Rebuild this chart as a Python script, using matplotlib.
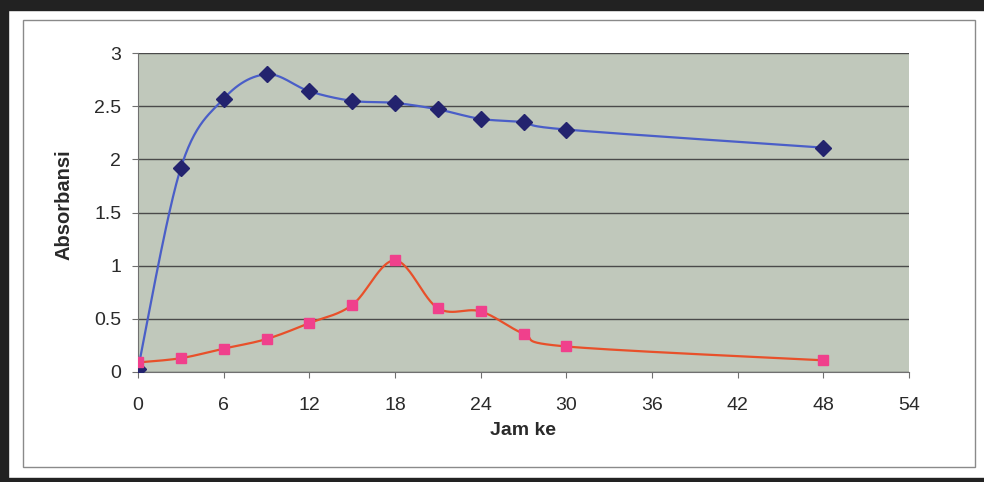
import numpy as np
import matplotlib
matplotlib.use("Agg")
import matplotlib.pyplot as plt
from matplotlib.patches import Rectangle

plt.rcParams['font.family'] = ['Liberation Sans', 'DejaVu Sans']

jam = [0, 3, 6, 9, 12, 15, 18, 21, 24, 27, 30, 48]
seri_biru = [0.03, 1.92, 2.57, 2.80, 2.64, 2.55, 2.53, 2.47, 2.38, 2.35, 2.28, 2.11]
seri_merah = [0.09, 0.13, 0.22, 0.31, 0.46, 0.63, 1.05, 0.60, 0.57, 0.36, 0.24, 0.11]
x_ticks = [0, 6, 12, 18, 24, 30, 36, 42, 48, 54]
y_ticks = [0, 0.5, 1, 1.5, 2, 2.5, 3]


def smooth(x, y, n=30):
    # Excel-style smoothed line (Catmull-Rom bezier through the points)
    x = np.asarray(x, float)
    y = np.asarray(y, float)
    px, py = [], []
    for i in range(len(x) - 1):
        i0 = max(i - 1, 0)
        i3 = min(i + 2, len(x) - 1)
        c1x = x[i] + (x[i + 1] - x[i0]) / 6
        c1y = y[i] + (y[i + 1] - y[i0]) / 6
        c2x = x[i + 1] - (x[i3] - x[i]) / 6
        c2y = y[i + 1] - (y[i3] - y[i]) / 6
        t = np.linspace(0, 1, n)
        a, b, c, d = (1 - t) ** 3, 3 * t * (1 - t) ** 2, 3 * t ** 2 * (1 - t), t ** 3
        px.extend(a * x[i] + b * c1x + c * c2x + d * x[i + 1])
        py.extend(a * y[i] + b * c1y + c * c2y + d * y[i + 1])
    return px, py


fig = plt.figure(figsize=(9.84, 4.82), dpi=100)

# scanned page frame
fig.patches.append(Rectangle((0, 0), 8 / 984, 1, transform=fig.transFigure, color='#222222', zorder=0))
fig.patches.append(Rectangle((0, 1 - 10 / 482), 1, 10 / 482, transform=fig.transFigure, color='#222222', zorder=0))
fig.patches.append(Rectangle((0, 0), 1, 4 / 482, transform=fig.transFigure, color='#222222', zorder=0))
fig.patches.append(Rectangle((23 / 984, 15 / 482), 952 / 984, 447 / 482, transform=fig.transFigure,
                             facecolor='white', edgecolor='#8a8a8a', lw=1, zorder=0))

ax = fig.add_axes([138 / 984, 110 / 482, 771 / 984, 319 / 482])
ax.set_zorder(5)
ax.set_facecolor('#c0c8bb')

bx, by = smooth(jam, seri_biru)
ax.plot(bx, by, color='#4a5ec8', lw=1.6, zorder=3)
ax.plot(jam, seri_biru, linestyle='none', marker='D', markersize=8, color='#23236e', zorder=4)

mx, my = smooth(jam, seri_merah)
ax.plot(mx, my, color='#e8502a', lw=1.6, zorder=3)
ax.plot(jam, seri_merah, linestyle='none', marker='s', markersize=7.5, color='#f0408c', zorder=4)

ax.set_xlim(0, 54)
ax.set_ylim(0, 3)
ax.set_xticks(x_ticks)
ax.set_yticks(y_ticks)
ax.set_yticklabels(['0', '0.5', '1', '1.5', '2', '2.5', '3'])
ax.yaxis.grid(True, color='#4a4a4a', lw=1)
ax.set_axisbelow(True)
for s in ['top', 'right']:
    ax.spines[s].set_visible(False)
for s in ['left', 'bottom']:
    ax.spines[s].set_color('#707070')
ax.tick_params(axis='both', labelsize=14, colors='#707070', labelcolor='#2a2a2a', length=4)
ax.tick_params(axis='x', pad=14)
ax.tick_params(axis='y', pad=8)

ax.set_xlabel('Jam ke', fontsize=14, fontweight='bold', color='#2a2a2a', labelpad=6)
ax.set_ylabel('Absorbansi', fontsize=14.5, fontweight='bold', color='#2a2a2a')
ax.yaxis.set_label_coords(-0.084, 0.525)

fig.savefig('out.png', dpi=100)
